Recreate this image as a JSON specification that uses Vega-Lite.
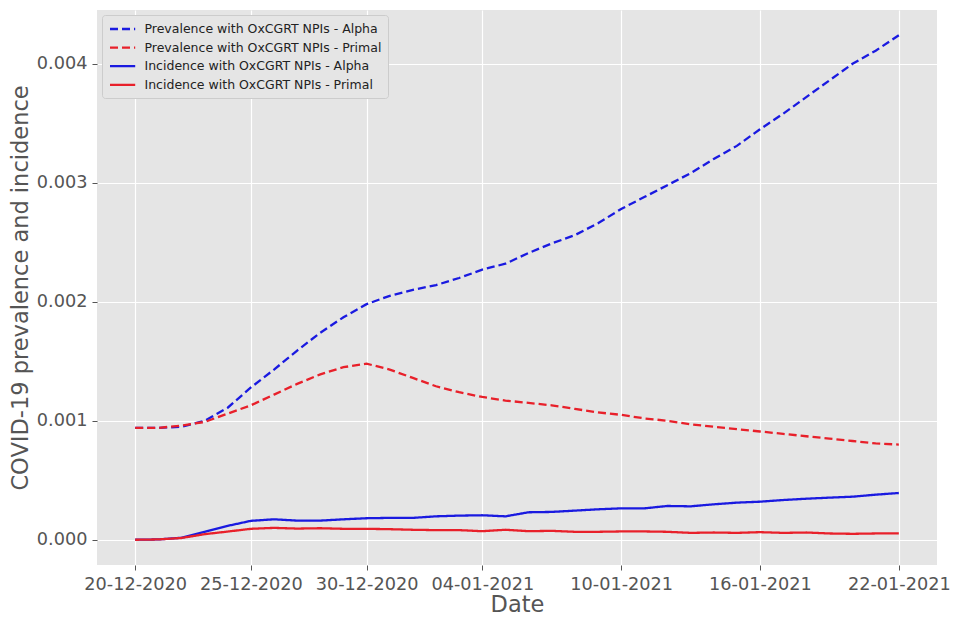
{
  "$schema": "https://vega.github.io/schema/vega-lite/v6.json",
  "width": 840,
  "height": 555,
  "autosize": {"type": "none"},
  "padding": {"left": 97, "top": 10, "right": 16, "bottom": 52},
  "background": "#ffffff",
  "config": {
    "font": "DejaVu Sans",
    "view": {"fill": "#e5e5e5", "stroke": null},
    "axis": {
      "grid": true,
      "gridColor": "#ffffff",
      "gridWidth": 1.2,
      "domain": false,
      "tickColor": "#555555",
      "tickSize": 5,
      "tickWidth": 1,
      "labelColor": "#555555",
      "labelFontSize": 17.7,
      "titleColor": "#555555",
      "titleFontSize": 22.5,
      "titleFontWeight": "normal"
    },
    "legend": {
      "title": null,
      "orient": "none",
      "legendX": 5,
      "legendY": 5,
      "fillColor": "#e5e5e5",
      "strokeColor": "#cccccc",
      "cornerRadius": 3,
      "padding": 6.5,
      "symbolType": "M-1,0H3.2",
      "symbolSize": 144,
      "symbolStrokeWidth": 2.3,
      "labelFontSize": 12.5,
      "labelColor": "#222222",
      "labelOffset": 21,
      "rowPadding": 4.6,
      "labelLimit": 400
    }
  },
  "data": {
    "values": [
      {"date": "2020-12-20", "series": "Prevalence with OxCGRT NPIs - Alpha", "value": 0.00094},
      {"date": "2020-12-21", "series": "Prevalence with OxCGRT NPIs - Alpha", "value": 0.00094},
      {"date": "2020-12-22", "series": "Prevalence with OxCGRT NPIs - Alpha", "value": 0.00095},
      {"date": "2020-12-23", "series": "Prevalence with OxCGRT NPIs - Alpha", "value": 0.00100},
      {"date": "2020-12-24", "series": "Prevalence with OxCGRT NPIs - Alpha", "value": 0.00111},
      {"date": "2020-12-25", "series": "Prevalence with OxCGRT NPIs - Alpha", "value": 0.00128},
      {"date": "2020-12-26", "series": "Prevalence with OxCGRT NPIs - Alpha", "value": 0.00143},
      {"date": "2020-12-27", "series": "Prevalence with OxCGRT NPIs - Alpha", "value": 0.00159},
      {"date": "2020-12-28", "series": "Prevalence with OxCGRT NPIs - Alpha", "value": 0.00174},
      {"date": "2020-12-29", "series": "Prevalence with OxCGRT NPIs - Alpha", "value": 0.00187},
      {"date": "2020-12-30", "series": "Prevalence with OxCGRT NPIs - Alpha", "value": 0.00198},
      {"date": "2020-12-31", "series": "Prevalence with OxCGRT NPIs - Alpha", "value": 0.00205},
      {"date": "2021-01-01", "series": "Prevalence with OxCGRT NPIs - Alpha", "value": 0.00210},
      {"date": "2021-01-02", "series": "Prevalence with OxCGRT NPIs - Alpha", "value": 0.00214},
      {"date": "2021-01-03", "series": "Prevalence with OxCGRT NPIs - Alpha", "value": 0.00220},
      {"date": "2021-01-04", "series": "Prevalence with OxCGRT NPIs - Alpha", "value": 0.00227},
      {"date": "2021-01-05", "series": "Prevalence with OxCGRT NPIs - Alpha", "value": 0.00232},
      {"date": "2021-01-06", "series": "Prevalence with OxCGRT NPIs - Alpha", "value": 0.00241},
      {"date": "2021-01-07", "series": "Prevalence with OxCGRT NPIs - Alpha", "value": 0.00249},
      {"date": "2021-01-08", "series": "Prevalence with OxCGRT NPIs - Alpha", "value": 0.00256},
      {"date": "2021-01-09", "series": "Prevalence with OxCGRT NPIs - Alpha", "value": 0.00266},
      {"date": "2021-01-10", "series": "Prevalence with OxCGRT NPIs - Alpha", "value": 0.00278},
      {"date": "2021-01-11", "series": "Prevalence with OxCGRT NPIs - Alpha", "value": 0.00288},
      {"date": "2021-01-12", "series": "Prevalence with OxCGRT NPIs - Alpha", "value": 0.00298},
      {"date": "2021-01-13", "series": "Prevalence with OxCGRT NPIs - Alpha", "value": 0.00308},
      {"date": "2021-01-14", "series": "Prevalence with OxCGRT NPIs - Alpha", "value": 0.00320},
      {"date": "2021-01-15", "series": "Prevalence with OxCGRT NPIs - Alpha", "value": 0.00331},
      {"date": "2021-01-16", "series": "Prevalence with OxCGRT NPIs - Alpha", "value": 0.00345},
      {"date": "2021-01-17", "series": "Prevalence with OxCGRT NPIs - Alpha", "value": 0.00358},
      {"date": "2021-01-18", "series": "Prevalence with OxCGRT NPIs - Alpha", "value": 0.00372},
      {"date": "2021-01-19", "series": "Prevalence with OxCGRT NPIs - Alpha", "value": 0.00386},
      {"date": "2021-01-20", "series": "Prevalence with OxCGRT NPIs - Alpha", "value": 0.00400},
      {"date": "2021-01-21", "series": "Prevalence with OxCGRT NPIs - Alpha", "value": 0.00411},
      {"date": "2021-01-22", "series": "Prevalence with OxCGRT NPIs - Alpha", "value": 0.00424},

      {"date": "2020-12-20", "series": "Prevalence with OxCGRT NPIs - Primal", "value": 0.00094},
      {"date": "2020-12-21", "series": "Prevalence with OxCGRT NPIs - Primal", "value": 0.00094},
      {"date": "2020-12-22", "series": "Prevalence with OxCGRT NPIs - Primal", "value": 0.00096},
      {"date": "2020-12-23", "series": "Prevalence with OxCGRT NPIs - Primal", "value": 0.00099},
      {"date": "2020-12-24", "series": "Prevalence with OxCGRT NPIs - Primal", "value": 0.00106},
      {"date": "2020-12-25", "series": "Prevalence with OxCGRT NPIs - Primal", "value": 0.00113},
      {"date": "2020-12-26", "series": "Prevalence with OxCGRT NPIs - Primal", "value": 0.00122},
      {"date": "2020-12-27", "series": "Prevalence with OxCGRT NPIs - Primal", "value": 0.00131},
      {"date": "2020-12-28", "series": "Prevalence with OxCGRT NPIs - Primal", "value": 0.00139},
      {"date": "2020-12-29", "series": "Prevalence with OxCGRT NPIs - Primal", "value": 0.00145},
      {"date": "2020-12-30", "series": "Prevalence with OxCGRT NPIs - Primal", "value": 0.00148},
      {"date": "2020-12-31", "series": "Prevalence with OxCGRT NPIs - Primal", "value": 0.00143},
      {"date": "2021-01-01", "series": "Prevalence with OxCGRT NPIs - Primal", "value": 0.00136},
      {"date": "2021-01-02", "series": "Prevalence with OxCGRT NPIs - Primal", "value": 0.00129},
      {"date": "2021-01-03", "series": "Prevalence with OxCGRT NPIs - Primal", "value": 0.00124},
      {"date": "2021-01-04", "series": "Prevalence with OxCGRT NPIs - Primal", "value": 0.00120},
      {"date": "2021-01-05", "series": "Prevalence with OxCGRT NPIs - Primal", "value": 0.00117},
      {"date": "2021-01-06", "series": "Prevalence with OxCGRT NPIs - Primal", "value": 0.00115},
      {"date": "2021-01-07", "series": "Prevalence with OxCGRT NPIs - Primal", "value": 0.00113},
      {"date": "2021-01-08", "series": "Prevalence with OxCGRT NPIs - Primal", "value": 0.00110},
      {"date": "2021-01-09", "series": "Prevalence with OxCGRT NPIs - Primal", "value": 0.00107},
      {"date": "2021-01-10", "series": "Prevalence with OxCGRT NPIs - Primal", "value": 0.00105},
      {"date": "2021-01-11", "series": "Prevalence with OxCGRT NPIs - Primal", "value": 0.00102},
      {"date": "2021-01-12", "series": "Prevalence with OxCGRT NPIs - Primal", "value": 0.00100},
      {"date": "2021-01-13", "series": "Prevalence with OxCGRT NPIs - Primal", "value": 0.00097},
      {"date": "2021-01-14", "series": "Prevalence with OxCGRT NPIs - Primal", "value": 0.00095},
      {"date": "2021-01-15", "series": "Prevalence with OxCGRT NPIs - Primal", "value": 0.00093},
      {"date": "2021-01-16", "series": "Prevalence with OxCGRT NPIs - Primal", "value": 0.00091},
      {"date": "2021-01-17", "series": "Prevalence with OxCGRT NPIs - Primal", "value": 0.00089},
      {"date": "2021-01-18", "series": "Prevalence with OxCGRT NPIs - Primal", "value": 0.00087},
      {"date": "2021-01-19", "series": "Prevalence with OxCGRT NPIs - Primal", "value": 0.00085},
      {"date": "2021-01-20", "series": "Prevalence with OxCGRT NPIs - Primal", "value": 0.00083},
      {"date": "2021-01-21", "series": "Prevalence with OxCGRT NPIs - Primal", "value": 0.00081},
      {"date": "2021-01-22", "series": "Prevalence with OxCGRT NPIs - Primal", "value": 0.00080},

      {"date": "2020-12-20", "series": "Incidence with OxCGRT NPIs - Alpha", "value": 0.000000},
      {"date": "2020-12-21", "series": "Incidence with OxCGRT NPIs - Alpha", "value": 0.000003},
      {"date": "2020-12-22", "series": "Incidence with OxCGRT NPIs - Alpha", "value": 0.000017},
      {"date": "2020-12-23", "series": "Incidence with OxCGRT NPIs - Alpha", "value": 0.000067},
      {"date": "2020-12-24", "series": "Incidence with OxCGRT NPIs - Alpha", "value": 0.000117},
      {"date": "2020-12-25", "series": "Incidence with OxCGRT NPIs - Alpha", "value": 0.000159},
      {"date": "2020-12-26", "series": "Incidence with OxCGRT NPIs - Alpha", "value": 0.000172},
      {"date": "2020-12-27", "series": "Incidence with OxCGRT NPIs - Alpha", "value": 0.000161},
      {"date": "2020-12-28", "series": "Incidence with OxCGRT NPIs - Alpha", "value": 0.000161},
      {"date": "2020-12-29", "series": "Incidence with OxCGRT NPIs - Alpha", "value": 0.000172},
      {"date": "2020-12-30", "series": "Incidence with OxCGRT NPIs - Alpha", "value": 0.000181},
      {"date": "2020-12-31", "series": "Incidence with OxCGRT NPIs - Alpha", "value": 0.000184},
      {"date": "2021-01-01", "series": "Incidence with OxCGRT NPIs - Alpha", "value": 0.000184},
      {"date": "2021-01-02", "series": "Incidence with OxCGRT NPIs - Alpha", "value": 0.000197},
      {"date": "2021-01-03", "series": "Incidence with OxCGRT NPIs - Alpha", "value": 0.000203},
      {"date": "2021-01-04", "series": "Incidence with OxCGRT NPIs - Alpha", "value": 0.000206},
      {"date": "2021-01-05", "series": "Incidence with OxCGRT NPIs - Alpha", "value": 0.000197},
      {"date": "2021-01-06", "series": "Incidence with OxCGRT NPIs - Alpha", "value": 0.000231},
      {"date": "2021-01-07", "series": "Incidence with OxCGRT NPIs - Alpha", "value": 0.000234},
      {"date": "2021-01-08", "series": "Incidence with OxCGRT NPIs - Alpha", "value": 0.000245},
      {"date": "2021-01-09", "series": "Incidence with OxCGRT NPIs - Alpha", "value": 0.000256},
      {"date": "2021-01-10", "series": "Incidence with OxCGRT NPIs - Alpha", "value": 0.000264},
      {"date": "2021-01-11", "series": "Incidence with OxCGRT NPIs - Alpha", "value": 0.000264},
      {"date": "2021-01-12", "series": "Incidence with OxCGRT NPIs - Alpha", "value": 0.000284},
      {"date": "2021-01-13", "series": "Incidence with OxCGRT NPIs - Alpha", "value": 0.000281},
      {"date": "2021-01-14", "series": "Incidence with OxCGRT NPIs - Alpha", "value": 0.000298},
      {"date": "2021-01-15", "series": "Incidence with OxCGRT NPIs - Alpha", "value": 0.000312},
      {"date": "2021-01-16", "series": "Incidence with OxCGRT NPIs - Alpha", "value": 0.000320},
      {"date": "2021-01-17", "series": "Incidence with OxCGRT NPIs - Alpha", "value": 0.000334},
      {"date": "2021-01-18", "series": "Incidence with OxCGRT NPIs - Alpha", "value": 0.000345},
      {"date": "2021-01-19", "series": "Incidence with OxCGRT NPIs - Alpha", "value": 0.000354},
      {"date": "2021-01-20", "series": "Incidence with OxCGRT NPIs - Alpha", "value": 0.000362},
      {"date": "2021-01-21", "series": "Incidence with OxCGRT NPIs - Alpha", "value": 0.000379},
      {"date": "2021-01-22", "series": "Incidence with OxCGRT NPIs - Alpha", "value": 0.000393},

      {"date": "2020-12-20", "series": "Incidence with OxCGRT NPIs - Primal", "value": 0.000000},
      {"date": "2020-12-21", "series": "Incidence with OxCGRT NPIs - Primal", "value": 0.000003},
      {"date": "2020-12-22", "series": "Incidence with OxCGRT NPIs - Primal", "value": 0.000015},
      {"date": "2020-12-23", "series": "Incidence with OxCGRT NPIs - Primal", "value": 0.000047},
      {"date": "2020-12-24", "series": "Incidence with OxCGRT NPIs - Primal", "value": 0.000069},
      {"date": "2020-12-25", "series": "Incidence with OxCGRT NPIs - Primal", "value": 0.000092},
      {"date": "2020-12-26", "series": "Incidence with OxCGRT NPIs - Primal", "value": 0.000100},
      {"date": "2020-12-27", "series": "Incidence with OxCGRT NPIs - Primal", "value": 0.000094},
      {"date": "2020-12-28", "series": "Incidence with OxCGRT NPIs - Primal", "value": 0.000097},
      {"date": "2020-12-29", "series": "Incidence with OxCGRT NPIs - Primal", "value": 0.000092},
      {"date": "2020-12-30", "series": "Incidence with OxCGRT NPIs - Primal", "value": 0.000092},
      {"date": "2020-12-31", "series": "Incidence with OxCGRT NPIs - Primal", "value": 0.000089},
      {"date": "2021-01-01", "series": "Incidence with OxCGRT NPIs - Primal", "value": 0.000084},
      {"date": "2021-01-02", "series": "Incidence with OxCGRT NPIs - Primal", "value": 0.000081},
      {"date": "2021-01-03", "series": "Incidence with OxCGRT NPIs - Primal", "value": 0.000081},
      {"date": "2021-01-04", "series": "Incidence with OxCGRT NPIs - Primal", "value": 0.000072},
      {"date": "2021-01-05", "series": "Incidence with OxCGRT NPIs - Primal", "value": 0.000084},
      {"date": "2021-01-06", "series": "Incidence with OxCGRT NPIs - Primal", "value": 0.000072},
      {"date": "2021-01-07", "series": "Incidence with OxCGRT NPIs - Primal", "value": 0.000075},
      {"date": "2021-01-08", "series": "Incidence with OxCGRT NPIs - Primal", "value": 0.000067},
      {"date": "2021-01-09", "series": "Incidence with OxCGRT NPIs - Primal", "value": 0.000067},
      {"date": "2021-01-10", "series": "Incidence with OxCGRT NPIs - Primal", "value": 0.000070},
      {"date": "2021-01-11", "series": "Incidence with OxCGRT NPIs - Primal", "value": 0.000070},
      {"date": "2021-01-12", "series": "Incidence with OxCGRT NPIs - Primal", "value": 0.000067},
      {"date": "2021-01-13", "series": "Incidence with OxCGRT NPIs - Primal", "value": 0.000058},
      {"date": "2021-01-14", "series": "Incidence with OxCGRT NPIs - Primal", "value": 0.000061},
      {"date": "2021-01-15", "series": "Incidence with OxCGRT NPIs - Primal", "value": 0.000058},
      {"date": "2021-01-16", "series": "Incidence with OxCGRT NPIs - Primal", "value": 0.000064},
      {"date": "2021-01-17", "series": "Incidence with OxCGRT NPIs - Primal", "value": 0.000058},
      {"date": "2021-01-18", "series": "Incidence with OxCGRT NPIs - Primal", "value": 0.000061},
      {"date": "2021-01-19", "series": "Incidence with OxCGRT NPIs - Primal", "value": 0.000053},
      {"date": "2021-01-20", "series": "Incidence with OxCGRT NPIs - Primal", "value": 0.000050},
      {"date": "2021-01-21", "series": "Incidence with OxCGRT NPIs - Primal", "value": 0.000053},
      {"date": "2021-01-22", "series": "Incidence with OxCGRT NPIs - Primal", "value": 0.000053}
    ]
  },
  "mark": {"type": "line", "strokeWidth": 2.3, "clip": true},
  "encoding": {
    "x": {
      "field": "date",
      "type": "temporal",
      "title": "Date",
      "scale": {
        "type": "utc",
        "domain": [
          {"year": 2020, "month": 12, "date": 18, "hours": 8, "minutes": 24, "utc": true},
          {"year": 2021, "month": 1, "date": 23, "hours": 15, "minutes": 36, "utc": true}
        ]
      },
      "axis": {
        "values": [
          {"year": 2020, "month": 12, "date": 20, "utc": true},
          {"year": 2020, "month": 12, "date": 25, "utc": true},
          {"year": 2020, "month": 12, "date": 30, "utc": true},
          {"year": 2021, "month": 1, "date": 4, "utc": true},
          {"year": 2021, "month": 1, "date": 10, "utc": true},
          {"year": 2021, "month": 1, "date": 16, "utc": true},
          {"year": 2021, "month": 1, "date": 22, "utc": true}
        ],
        "format": "%d-%m-%Y",
        "labelPadding": 5,
        "titlePadding": 1,
        "labelFlush": false,
        "labelOverlap": false
      }
    },
    "y": {
      "field": "value",
      "type": "quantitative",
      "title": "COVID-19 prevalence and incidence",
      "scale": {"domain": [-0.000212, 0.004452], "nice": false, "zero": false},
      "axis": {
        "values": [0, 0.001, 0.002, 0.003, 0.004],
        "format": ".3f",
        "labelPadding": 5,
        "titlePadding": 4
      }
    },
    "color": {
      "field": "series",
      "type": "nominal",
      "scale": {
        "domain": [
          "Prevalence with OxCGRT NPIs - Alpha",
          "Prevalence with OxCGRT NPIs - Primal",
          "Incidence with OxCGRT NPIs - Alpha",
          "Incidence with OxCGRT NPIs - Primal"
        ],
        "range": ["#1a1ae0", "#e8202a", "#1a1ae0", "#e8202a"]
      }
    },
    "strokeDash": {
      "field": "series",
      "type": "nominal",
      "scale": {
        "domain": [
          "Prevalence with OxCGRT NPIs - Alpha",
          "Prevalence with OxCGRT NPIs - Primal",
          "Incidence with OxCGRT NPIs - Alpha",
          "Incidence with OxCGRT NPIs - Primal"
        ],
        "range": [[8, 4], [8, 4], [1, 0], [1, 0]]
      }
    }
  }
}
